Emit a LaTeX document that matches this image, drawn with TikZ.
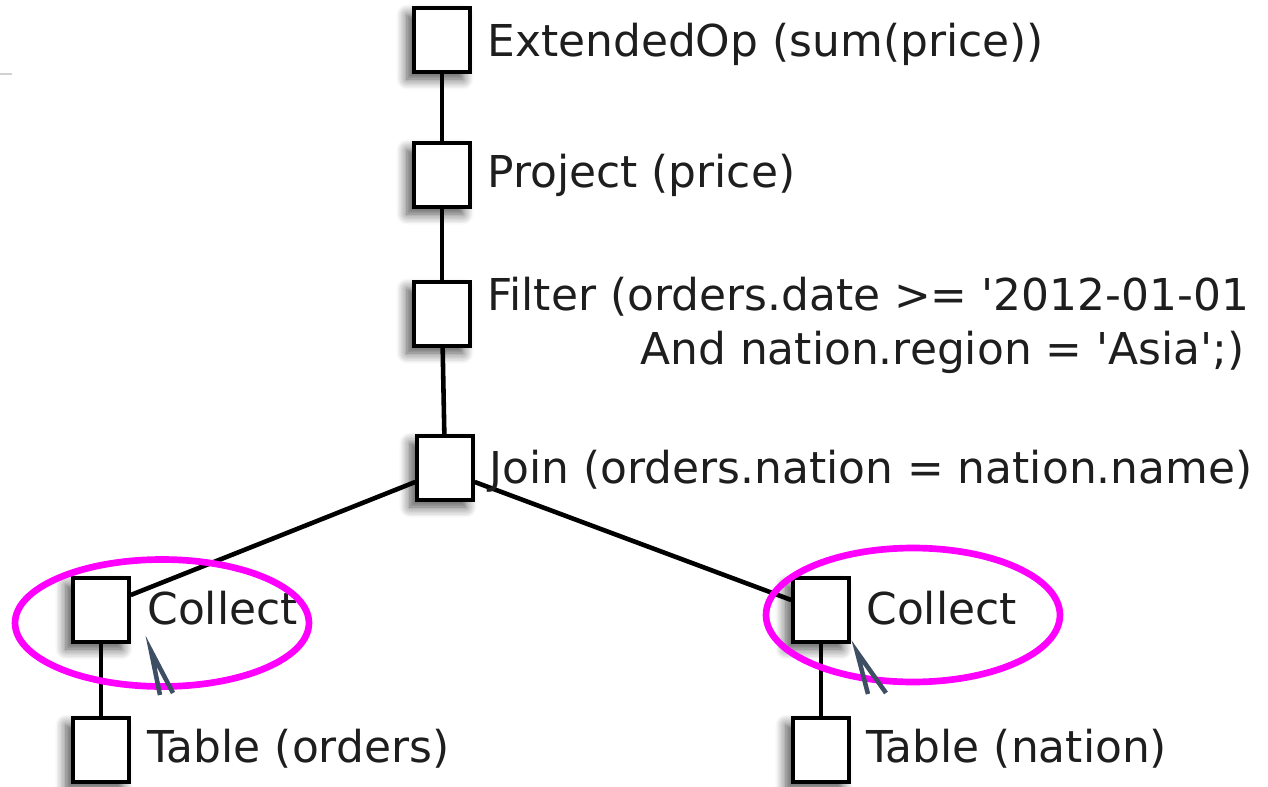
\documentclass[tikz,border=0pt]{standalone}
\usepackage{fontspec}
\setmainfont{DejaVu Sans}
\usetikzlibrary{shapes.geometric,shadows.blur,calc}
\definecolor{hilite}{HTML}{FF00FF}
\definecolor{caret}{HTML}{3F4F63}
\definecolor{txt}{HTML}{1E1E1E}
\newcommand{\sq}{\textquotesingle}
\tikzset{
  op/.style={draw=black, line width=2pt, fill=white, minimum width=1.12cm,
    minimum height=1.28cm, inner sep=0pt,
    blur shadow={shadow xshift=-4pt, shadow yshift=-4pt, shadow blur radius=6pt,
      shadow blur steps=8, shadow opacity=70}},
  lbl/.style={anchor=base west, inner sep=0pt, text=txt,
    font=\fontsize{25}{30}\selectfont},
  edge/.style={line width=2.6pt, black},
  ring/.style={ellipse, draw=hilite, line width=3.8pt, inner sep=0pt},
  caretline/.style={caret, line width=2.6pt}
}
\begin{document}
\begin{tikzpicture}[x=0.02cm, y=-0.02cm]
\useasboundingbox (0,0) rectangle (1268,787);
% faint rule at the left edge
\draw[black!18, line width=0.8pt] (0,74) -- (12,74);

% operator boxes
\node[op] (ext)  at (442,40)  {};
\node[op] (proj) at (442,175) {};
\node[op] (filt) at (442,314) {};
\node[op] (join) at (445,468) {};
\node[op] (cl)   at (101,610) {};
\node[op] (tl)   at (101,750) {};
\node[op] (cr)   at (821,610) {};
\node[op] (tr)   at (821,750) {};

% tree edges
\draw[edge] (ext) -- (proj);
\draw[edge] (proj) -- (filt);
\draw[edge] (filt) -- (join);
\draw[edge] ([yshift=-0.28cm]join.west) -- ([yshift=0.3cm]cl.east);
\draw[edge] ([yshift=-0.28cm]join.east) -- ([yshift=0.2cm]cr.west);
\draw[edge] (cl) -- (tl);
\draw[edge] (cr) -- (tr);

% labels
\node[lbl] (lext)  at (487,57)  {ExtendedOp (sum(price))};
\node[lbl] (lproj) at (487,188) {Project (price)};
\node[lbl] (lfa)   at (487,311) {Filter (orders.date >= \sq2012-01-01};
\node[lbl] (lfb)   at (640,364) {And nation.region = \sq Asia\sq;)};
\node[lbl] (ljoin) at (489,483) {Join (orders.nation = nation.name)};
\node[lbl] (lcl)   at (147,624) {Collect};
\node[lbl] (ltl)   at (147,762) {Table (orders)};
\node[lbl] (lcr)   at (866,624) {Collect};
\node[lbl] (ltr)   at (866,762) {Table (nation)};

% highlight rings
\node[ring, minimum width=5.88cm, minimum height=2.54cm] (rl) at (162,623) {};
\node[ring, minimum width=5.88cm, minimum height=2.68cm] (rr) at (913,615) {};

% caret marks
\coordinate (ka) at (151,651);
\coordinate (kb) at (160,695);
\coordinate (kc) at (173,693);
\draw[caretline] (kb) -- (ka) -- (kc);
\coordinate (qa) at (857,652);
\coordinate (qb) at (868,694);
\coordinate (qc) at (886,693);
\draw[caretline] (qb) -- (qa) -- (qc);
\end{tikzpicture}
\end{document}
